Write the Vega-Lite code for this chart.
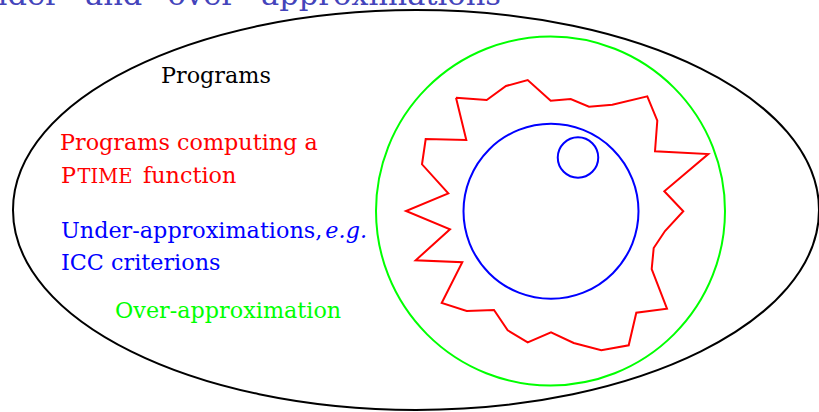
{
  "$schema": "https://vega.github.io/schema/vega-lite/v6.json",
  "width": 819,
  "height": 412,
  "padding": 0,
  "autosize": {"type": "none"},
  "background": "white",
  "config": {"view": {"stroke": null}},
  "encoding": {
    "x": {"field": "x", "type": "quantitative", "scale": {"domain": [0, 819], "nice": false, "zero": false}, "axis": null},
    "y": {"field": "y", "type": "quantitative", "scale": {"domain": [0, 412], "nice": false, "zero": false, "reverse": true}, "axis": null}
  },
  "layer": [
    {
      "data": {"values": [{"x": 416, "y": 210}]},
      "mark": {"type": "point", "shape": "M-1,0 A1,0.496 0 1,1 1,0 A1,0.496 0 1,1 -1,0 Z", "size": 649636, "filled": false, "stroke": "black", "strokeWidth": 2, "opacity": 1}
    },
    {
      "data": {"values": [{"x": 550.5, "y": 211}]},
      "mark": {"type": "point", "shape": "circle", "size": 121801, "filled": false, "stroke": "#00ff00", "strokeWidth": 2, "opacity": 1}
    },
    {
      "data": {"values": [
        {"i": 0, "x": 456, "y": 97.7}, {"i": 1, "x": 486.7, "y": 100}, {"i": 2, "x": 506, "y": 86},
        {"i": 3, "x": 527.7, "y": 80}, {"i": 4, "x": 550.7, "y": 100.7}, {"i": 5, "x": 570.7, "y": 99},
        {"i": 6, "x": 589, "y": 106.7}, {"i": 7, "x": 612.3, "y": 104.7}, {"i": 8, "x": 647.3, "y": 96.3},
        {"i": 9, "x": 657.3, "y": 120.7}, {"i": 10, "x": 655, "y": 151.3}, {"i": 11, "x": 708.3, "y": 154},
        {"i": 12, "x": 664.3, "y": 191.3}, {"i": 13, "x": 683.3, "y": 211.3}, {"i": 14, "x": 665, "y": 231},
        {"i": 15, "x": 653.7, "y": 248}, {"i": 16, "x": 651.7, "y": 269}, {"i": 17, "x": 667, "y": 308.7},
        {"i": 18, "x": 636.3, "y": 312.7}, {"i": 19, "x": 628.7, "y": 345.3}, {"i": 20, "x": 601.3, "y": 350.3},
        {"i": 21, "x": 573.7, "y": 343}, {"i": 22, "x": 551, "y": 332.3}, {"i": 23, "x": 527.7, "y": 342.3},
        {"i": 24, "x": 507.7, "y": 330.3}, {"i": 25, "x": 494, "y": 310}, {"i": 26, "x": 466.7, "y": 311},
        {"i": 27, "x": 441.7, "y": 303}, {"i": 28, "x": 462.3, "y": 262.3}, {"i": 29, "x": 415.7, "y": 260.3},
        {"i": 30, "x": 450, "y": 229.3}, {"i": 31, "x": 406, "y": 211}, {"i": 32, "x": 448.3, "y": 193.3},
        {"i": 33, "x": 422, "y": 164.3}, {"i": 34, "x": 425.7, "y": 139}, {"i": 35, "x": 466.3, "y": 140},
        {"i": 36, "x": 456, "y": 97.7}
      ]},
      "mark": {"type": "line", "stroke": "#ff0000", "strokeWidth": 2, "strokeJoin": "miter"},
      "encoding": {"order": {"field": "i", "type": "quantitative"}}
    },
    {
      "data": {"values": [{"x": 551, "y": 211.3}]},
      "mark": {"type": "point", "shape": "circle", "size": 30625, "filled": false, "stroke": "#0000ff", "strokeWidth": 2, "opacity": 1}
    },
    {
      "data": {"values": [{"x": 578, "y": 157.5}]},
      "mark": {"type": "point", "shape": "circle", "size": 1640, "filled": false, "stroke": "#0000ff", "strokeWidth": 2, "opacity": 1}
    },
    {
      "data": {"values": [
        {"x": 161, "y": 83, "t": "Programs", "g": "black"},
        {"x": 60, "y": 150, "t": "Programs computing a", "g": "red"},
        {"x": 61, "y": 183, "t": "P", "g": "red"},
        {"x": 143, "y": 183, "t": "function", "g": "red"},
        {"x": 61, "y": 238, "t": "Under-approximations,", "g": "blue"},
        {"x": 61, "y": 270, "t": "ICC criterions", "g": "blue"},
        {"x": 115, "y": 318, "t": "Over-approximation", "g": "green"}
      ]},
      "mark": {"type": "text", "align": "left", "baseline": "alphabetic", "font": "DejaVu Serif", "fontSize": 22.3},
      "encoding": {
        "text": {"field": "t"},
        "color": {"field": "g", "type": "nominal", "legend": null, "scale": {"domain": ["black", "red", "blue", "green"], "range": ["#000000", "#ff0000", "#0000ff", "#00ff00"]}}
      }
    },
    {
      "data": {"values": [{"x": 77.5, "y": 183, "t": "TIME"}]},
      "mark": {"type": "text", "align": "left", "baseline": "alphabetic", "font": "DejaVu Serif", "fontSize": 19.5, "color": "#ff0000"},
      "encoding": {"text": {"field": "t"}}
    },
    {
      "data": {"values": [{"x": 367, "y": 238, "t": "e.g."}]},
      "mark": {"type": "text", "align": "right", "baseline": "alphabetic", "font": "DejaVu Serif", "fontSize": 22.3, "fontStyle": "italic", "color": "#0000ff"},
      "encoding": {"text": {"field": "t"}}
    },
    {
      "data": {"values": [{"x": 501, "y": 4.5, "t": "“Under” and “over” approximations"}]},
      "mark": {"type": "text", "align": "right", "baseline": "alphabetic", "font": "DejaVu Serif", "fontSize": 30.5, "color": "#4444bb"},
      "encoding": {"text": {"field": "t"}}
    }
  ]
}
